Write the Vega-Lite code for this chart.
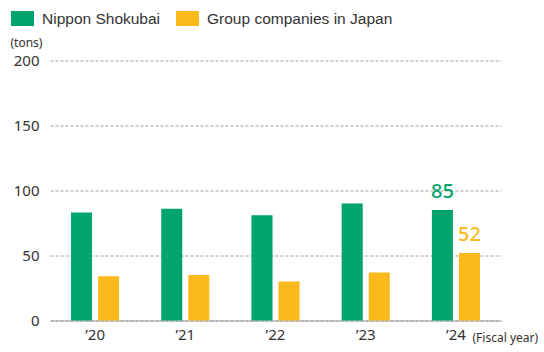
{
  "$schema": "https://vega.github.io/schema/vega-lite/v6.json",
  "autosize": {"type": "none"},
  "width": 451,
  "height": 260,
  "padding": {"left": 50, "top": 60.5, "right": 43, "bottom": 31.5},
  "background": "white",
  "config": {
    "view": {"stroke": null},
    "font": "Noto Sans"
  },
  "data": {
    "values": [
      {"year": "’20", "series": "Nippon Shokubai", "value": 83, "label": ""},
      {"year": "’20", "series": "Group companies in Japan", "value": 34, "label": ""},
      {"year": "’21", "series": "Nippon Shokubai", "value": 86, "label": ""},
      {"year": "’21", "series": "Group companies in Japan", "value": 35, "label": ""},
      {"year": "’22", "series": "Nippon Shokubai", "value": 81, "label": ""},
      {"year": "’22", "series": "Group companies in Japan", "value": 30, "label": ""},
      {"year": "’23", "series": "Nippon Shokubai", "value": 90, "label": ""},
      {"year": "’23", "series": "Group companies in Japan", "value": 37, "label": ""},
      {"year": "’24", "series": "Nippon Shokubai", "value": 85, "label": "85"},
      {"year": "’24", "series": "Group companies in Japan", "value": 52, "label": "52"}
    ]
  },
  "encoding": {
    "x": {
      "field": "year", "type": "nominal", "sort": null,
      "scale": {"paddingInner": 0.467, "paddingOuter": 0.233},
      "axis": {
        "labelAngle": 0, "ticks": false, "domain": true, "domainColor": "#999999",
        "labelFontSize": 15, "labelColor": "#333333", "labelPadding": 7,
        "title": "(Fiscal year)", "titleFontSize": 12, "titleFontWeight": "normal",
        "titleColor": "#333333", "titleX": 422, "titleY": 12, "titleAlign": "left",
        "titleBaseline": "top"
      }
    },
    "xOffset": {
      "field": "series", "type": "nominal",
      "sort": ["Nippon Shokubai", "Group companies in Japan"],
      "scale": {"paddingInner": 0.222, "paddingOuter": 0}
    },
    "y": {
      "field": "value", "type": "quantitative",
      "scale": {"domain": [0, 200]},
      "axis": {
        "values": [0, 50, 100, 150, 200], "ticks": false, "domain": false,
        "labelFontSize": 15, "labelColor": "#333333", "labelPadding": 11,
        "gridColor": "#888888", "gridDash": [3, 2], "gridWidth": 0.8,
        "title": "(tons)", "titleAngle": 0, "titleFontSize": 12, "titleFontWeight": "normal",
        "titleColor": "#333333", "titleX": -40, "titleY": -23, "titleAlign": "left",
        "titleBaseline": "top"
      }
    },
    "color": {
      "field": "series", "type": "nominal",
      "sort": ["Nippon Shokubai", "Group companies in Japan"],
      "scale": {"domain": ["Nippon Shokubai", "Group companies in Japan"], "range": ["#00a46c", "#fbb91c"]},
      "legend": {
        "title": null, "orient": "none", "direction": "horizontal",
        "legendX": -39, "legendY": -53.5,
        "symbolType": "M-1,-0.65H1V0.65H-1Z", "symbolSize": 529,
        "symbolStrokeWidth": 0, "symbolOpacity": 1,
        "labelFontSize": 15.5, "labelColor": "#333333", "labelFont": "Liberation Sans",
        "labelLimit": 0, "columnPadding": 15, "labelOffset": 8
      }
    }
  },
  "layer": [
    {"mark": {"type": "bar"}},
    {
      "mark": {"type": "text", "baseline": "alphabetic", "dy": -12, "fontSize": 20, "fontWeight": 500},
      "encoding": {"text": {"field": "label"}}
    }
  ]
}
